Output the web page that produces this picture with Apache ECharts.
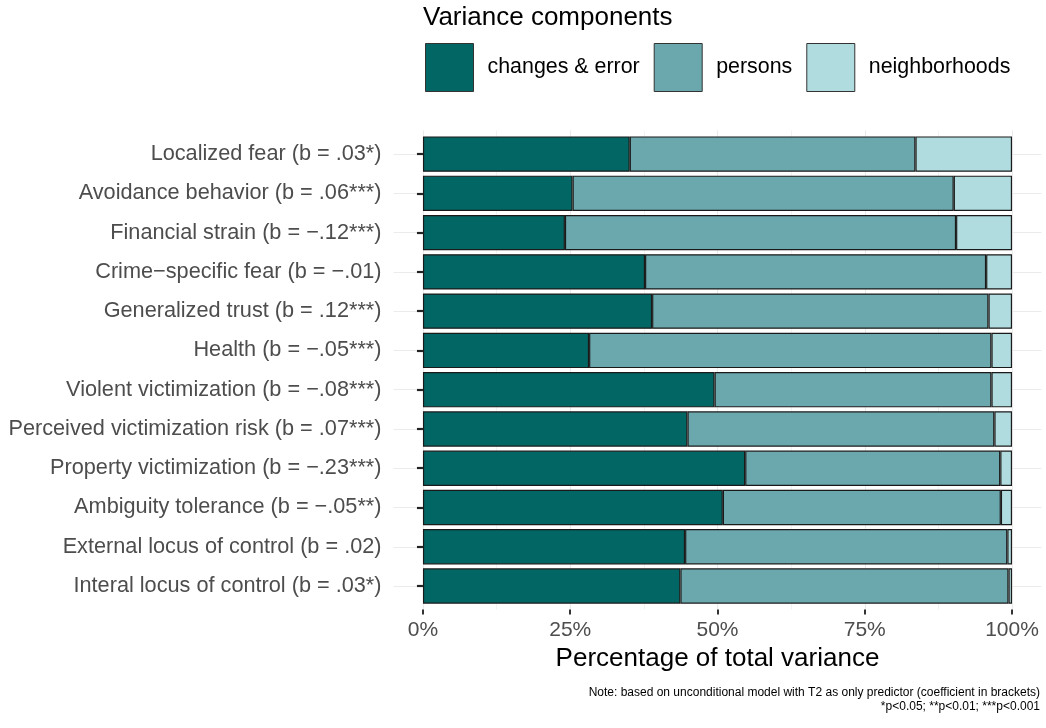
<!DOCTYPE html>
<html>
<head>
<meta charset="utf-8">
<script src="https://cdn.jsdelivr.net/npm/echarts@6/dist/echarts.min.js"></script>
<style>
  html, body { margin: 0; padding: 0; background: #ffffff; }
  #chart { width: 1046px; height: 728px; }
</style>
</head>
<body>
<div id="chart"></div>
<script>
// Outcome measures, listed top to bottom
const categories = [
  'Localized fear (b = .03*)',
  'Avoidance behavior (b = .06***)',
  'Financial strain (b = \u2212.12***)',
  'Crime\u2212specific fear (b = \u2212.01)',
  'Generalized trust (b = .12***)',
  'Health (b = \u2212.05***)',
  'Violent victimization (b = \u2212.08***)',
  'Perceived victimization risk (b = .07***)',
  'Property victimization (b = \u2212.23***)',
  'Ambiguity tolerance (b = \u2212.05**)',
  'External locus of control (b = .02)',
  'Interal locus of control (b = .03*)'
];

// Share of total variance (%) per component
const changesError  = [35.1, 25.4, 24.1, 37.7, 38.9, 28.2, 49.5, 44.9, 54.7, 50.9, 44.5, 43.7];
const persons       = [48.5, 64.7, 66.4, 57.9, 57.1, 68.3, 47.0, 52.1, 43.3, 47.2, 54.7, 55.7];
const neighborhoods = [16.4,  9.9,  9.5,  4.4,  4.0,  3.5,  3.5,  3.0,  2.0,  1.9,  0.8,  0.6];

const seriesNames = ['changes & error', 'persons', 'neighborhoods'];
const seriesColors = ['#026764', '#6BA8AE', '#B1DCDF'];

const xTicks = [0, 25, 50, 75, 100];
const xMinorGrid = [0, 12.5, 25, 37.5, 50, 62.5, 75, 87.5, 100];
const rowPositions = categories.map((_, i) => i + 1);

const noteLines = [
  'Note: based on unconditional model with T2 as only predictor (coefficient in brackets)',
  '*p<0.05; **p<0.01; ***p<0.001'
];

const FONT = "'Liberation Sans', Arial, Helvetica, sans-serif";
const GRID_COLOR = '#EBEBEB';

// panel (with ggplot-style padding) and the bar area inside it
const panel = { left: 393.5, right: 4.5, top: 130.5, bottom: 118.4 };
const band = (728 - panel.top - panel.bottom) / 12.2;
const barsGrid = {
  left: panel.left, right: panel.right,
  top: panel.top + 0.1 * band, bottom: panel.bottom + 0.1 * band
};

const chart = echarts.init(document.getElementById('chart'), null, { renderer: 'canvas' });

const values = [changesError, persons, neighborhoods];

chart.setOption({
  backgroundColor: '#ffffff',
  animation: false,
  textStyle: { fontFamily: FONT },
  title: {
    text: 'Variance components',
    left: 423, top: 5, padding: 0,
    textStyle: { fontFamily: FONT, fontSize: 26, fontWeight: 'normal', color: '#000000' }
  },
  legend: {
    data: seriesNames,
    left: 425, top: 43, padding: 0,
    orient: 'horizontal',
    icon: 'rect',
    itemWidth: 48, itemHeight: 48, itemGap: 14,
    itemStyle: { borderColor: '#333333', borderWidth: 1 },
    selectedMode: false,
    textStyle: { fontFamily: FONT, fontSize: 21.4, color: '#000000', padding: [0, 0, 0, 9] }
  },
  grid: [
    Object.assign({ containLabel: false }, panel),
    Object.assign({ containLabel: false }, barsGrid)
  ],
  xAxis: [
    { // labelled axis with major grid lines
      type: 'value', gridIndex: 0, position: 'bottom', min: -5, max: 105,
      axisLine: { show: false },
      axisTick: { show: true, customValues: xTicks, length: 5, lineStyle: { color: '#333333', width: 2 } },
      axisLabel: {
        customValues: xTicks, margin: 10,
        fontFamily: FONT, fontSize: 21, color: '#4D4D4D',
        formatter: v => v + '%'
      },
      splitLine: { show: true, lineStyle: { color: GRID_COLOR, width: 1.1 } },
      name: 'Percentage of total variance',
      nameLocation: 'middle', nameGap: 35,
      nameTextStyle: { fontFamily: FONT, fontSize: 26, color: '#000000' }
    },
    { // minor grid lines
      type: 'value', gridIndex: 0, position: 'top', min: -5, max: 105,
      axisLine: { show: false },
      axisTick: { show: false, customValues: xMinorGrid },
      axisLabel: { show: false },
      splitLine: { show: true, lineStyle: { color: GRID_COLOR, width: 0.6 } }
    },
    { // value axis for the bars
      type: 'value', gridIndex: 1, min: -5, max: 105, show: false,
      splitLine: { show: false }
    }
  ],
  yAxis: [
    { // horizontal grid lines at row centres
      type: 'value', gridIndex: 0, min: 0.4, max: 12.6,
      axisLine: { show: false },
      axisTick: { show: false, customValues: rowPositions },
      axisLabel: { show: false },
      splitLine: { show: true, lineStyle: { color: GRID_COLOR, width: 1.1 } }
    },
    {
      type: 'category', gridIndex: 1, data: categories, inverse: true,
      axisLine: { show: false },
      axisTick: { show: true, alignWithLabel: true, length: 6, lineStyle: { color: '#222222', width: 2.2 } },
      axisLabel: { margin: 12, fontFamily: FONT, fontSize: 21.7, color: '#4D4D4D' },
      splitLine: { show: false },
      z: 4
    }
  ],
  series: seriesNames.map((name, k) => ({
    name: name,
    type: 'bar',
    stack: 'total',
    xAxisIndex: 2,
    yAxisIndex: 1,
    barWidth: '90%',
    data: values[k],
    itemStyle: { color: seriesColors[k], borderColor: '#1A1A1A', borderWidth: 1.2 },
    emphasis: { disabled: true },
    z: 3
  })),
  graphic: noteLines.map((line, i) => ({
    type: 'text',
    right: 6, top: 687 + i * 13.5,
    style: {
      text: line,
      fontFamily: FONT, fontSize: 12, fill: '#000000'
    }
  }))
});
</script>
</body>
</html>
